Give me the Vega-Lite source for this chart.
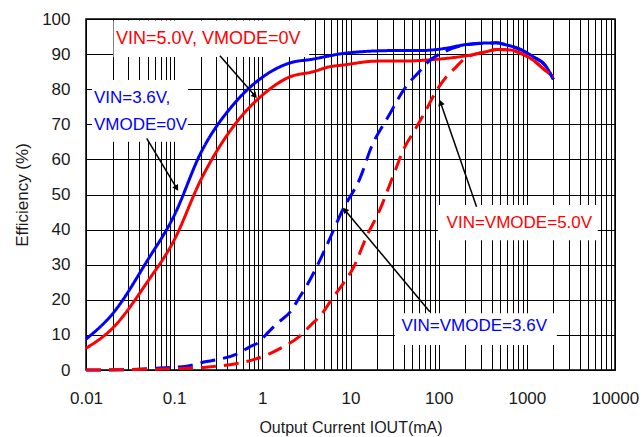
{
  "$schema": "https://vega.github.io/schema/vega-lite/v6.json",
  "width": 529,
  "height": 351,
  "autosize": "none",
  "padding": {"left": 86, "top": 19, "right": 29, "bottom": 67},
  "background": "white",
  "config": {
    "font": "Liberation Sans",
    "view": {"stroke": "black", "strokeWidth": 1.5},
    "axis": {
      "gridColor": "black",
      "gridWidth": 1,
      "gridOpacity": 1,
      "ticks": false,
      "domain": false,
      "labelFont": "Liberation Sans",
      "labelFontSize": 17,
      "labelColor": "#1a1a1a",
      "titleFont": "Liberation Sans",
      "titleFontWeight": "normal",
      "titleColor": "#1a1a1a"
    }
  },
  "datasets": {
    "curves": [
      {"vin": "3.6V", "mode": "0V", "current": 0.01, "eff": 8.8},
      {"vin": "3.6V", "mode": "0V", "current": 0.02, "eff": 16},
      {"vin": "3.6V", "mode": "0V", "current": 0.05, "eff": 31.3},
      {"vin": "3.6V", "mode": "0V", "current": 0.1, "eff": 44},
      {"vin": "3.6V", "mode": "0V", "current": 0.2, "eff": 61.8},
      {"vin": "3.6V", "mode": "0V", "current": 0.5, "eff": 76.4},
      {"vin": "3.6V", "mode": "0V", "current": 1, "eff": 83.4},
      {"vin": "3.6V", "mode": "0V", "current": 2, "eff": 87.4},
      {"vin": "3.6V", "mode": "0V", "current": 3.8, "eff": 88.6},
      {"vin": "3.6V", "mode": "0V", "current": 5.8, "eff": 89.5},
      {"vin": "3.6V", "mode": "0V", "current": 8.3, "eff": 90.2},
      {"vin": "3.6V", "mode": "0V", "current": 30, "eff": 91},
      {"vin": "3.6V", "mode": "0V", "current": 61, "eff": 91},
      {"vin": "3.6V", "mode": "0V", "current": 123, "eff": 91.7},
      {"vin": "3.6V", "mode": "0V", "current": 190, "eff": 92.6},
      {"vin": "3.6V", "mode": "0V", "current": 293, "eff": 93.1},
      {"vin": "3.6V", "mode": "0V", "current": 453, "eff": 93.2},
      {"vin": "3.6V", "mode": "0V", "current": 590, "eff": 92.6},
      {"vin": "3.6V", "mode": "0V", "current": 832, "eff": 91.4},
      {"vin": "3.6V", "mode": "0V", "current": 1175, "eff": 89.3},
      {"vin": "3.6V", "mode": "0V", "current": 1650, "eff": 86.5},
      {"vin": "3.6V", "mode": "0V", "current": 2000, "eff": 82.8},

      {"vin": "5.0V", "mode": "0V", "current": 0.01, "eff": 6.2},
      {"vin": "5.0V", "mode": "0V", "current": 0.02, "eff": 11.9},
      {"vin": "5.0V", "mode": "0V", "current": 0.05, "eff": 25.2},
      {"vin": "5.0V", "mode": "0V", "current": 0.1, "eff": 37},
      {"vin": "5.0V", "mode": "0V", "current": 0.2, "eff": 54.1},
      {"vin": "5.0V", "mode": "0V", "current": 0.5, "eff": 70.3},
      {"vin": "5.0V", "mode": "0V", "current": 1, "eff": 78.3},
      {"vin": "5.0V", "mode": "0V", "current": 2, "eff": 83.4},
      {"vin": "5.0V", "mode": "0V", "current": 3.8, "eff": 85},
      {"vin": "5.0V", "mode": "0V", "current": 5.8, "eff": 86.4},
      {"vin": "5.0V", "mode": "0V", "current": 8.3, "eff": 86.9},
      {"vin": "5.0V", "mode": "0V", "current": 20, "eff": 88},
      {"vin": "5.0V", "mode": "0V", "current": 40, "eff": 88},
      {"vin": "5.0V", "mode": "0V", "current": 72, "eff": 88.3},
      {"vin": "5.0V", "mode": "0V", "current": 146, "eff": 89},
      {"vin": "5.0V", "mode": "0V", "current": 226, "eff": 89.7},
      {"vin": "5.0V", "mode": "0V", "current": 349, "eff": 90.7},
      {"vin": "5.0V", "mode": "0V", "current": 453, "eff": 91.3},
      {"vin": "5.0V", "mode": "0V", "current": 641, "eff": 91.2},
      {"vin": "5.0V", "mode": "0V", "current": 908, "eff": 89.9},
      {"vin": "5.0V", "mode": "0V", "current": 1175, "eff": 88.3},
      {"vin": "5.0V", "mode": "0V", "current": 1530, "eff": 85.9},
      {"vin": "5.0V", "mode": "0V", "current": 2000, "eff": 83.5},

      {"vin": "3.6V", "mode": "VIN", "current": 0.01, "eff": 0},
      {"vin": "3.6V", "mode": "VIN", "current": 0.03, "eff": 0.1},
      {"vin": "3.6V", "mode": "VIN", "current": 0.063, "eff": 0.5},
      {"vin": "3.6V", "mode": "VIN", "current": 0.139, "eff": 1.1},
      {"vin": "3.6V", "mode": "VIN", "current": 0.233, "eff": 2.4},
      {"vin": "3.6V", "mode": "VIN", "current": 0.316, "eff": 3},
      {"vin": "3.6V", "mode": "VIN", "current": 0.53, "eff": 4.7},
      {"vin": "3.6V", "mode": "VIN", "current": 0.72, "eff": 6.6},
      {"vin": "3.6V", "mode": "VIN", "current": 0.9, "eff": 7.8},
      {"vin": "3.6V", "mode": "VIN", "current": 1.12, "eff": 10.3},
      {"vin": "3.6V", "mode": "VIN", "current": 1.45, "eff": 13.1},
      {"vin": "3.6V", "mode": "VIN", "current": 2.15, "eff": 17.1},
      {"vin": "3.6V", "mode": "VIN", "current": 2.55, "eff": 20.1},
      {"vin": "3.6V", "mode": "VIN", "current": 3.3, "eff": 24.7},
      {"vin": "3.6V", "mode": "VIN", "current": 4.5, "eff": 31.3},
      {"vin": "3.6V", "mode": "VIN", "current": 5.1, "eff": 34.2},
      {"vin": "3.6V", "mode": "VIN", "current": 8.3, "eff": 46},
      {"vin": "3.6V", "mode": "VIN", "current": 12.8, "eff": 54.6},
      {"vin": "3.6V", "mode": "VIN", "current": 17.3, "eff": 63.6},
      {"vin": "3.6V", "mode": "VIN", "current": 26.8, "eff": 72.2},
      {"vin": "3.6V", "mode": "VIN", "current": 41.4, "eff": 80.3},
      {"vin": "3.6V", "mode": "VIN", "current": 58.7, "eff": 84.7},
      {"vin": "3.6V", "mode": "VIN", "current": 76, "eff": 87.8},
      {"vin": "3.6V", "mode": "VIN", "current": 117, "eff": 90.7},
      {"vin": "3.6V", "mode": "VIN", "current": 190, "eff": 92.5},
      {"vin": "3.6V", "mode": "VIN", "current": 293, "eff": 93},
      {"vin": "3.6V", "mode": "VIN", "current": 453, "eff": 93.2},
      {"vin": "3.6V", "mode": "VIN", "current": 590, "eff": 92.6},
      {"vin": "3.6V", "mode": "VIN", "current": 832, "eff": 91.4},
      {"vin": "3.6V", "mode": "VIN", "current": 1175, "eff": 89.3},
      {"vin": "3.6V", "mode": "VIN", "current": 1650, "eff": 86.5},
      {"vin": "3.6V", "mode": "VIN", "current": 2000, "eff": 82.8},

      {"vin": "5.0V", "mode": "VIN", "current": 0.01, "eff": 0},
      {"vin": "5.0V", "mode": "VIN", "current": 0.05, "eff": 0.2},
      {"vin": "5.0V", "mode": "VIN", "current": 0.1, "eff": 0.4},
      {"vin": "5.0V", "mode": "VIN", "current": 0.23, "eff": 0.8},
      {"vin": "5.0V", "mode": "VIN", "current": 0.5, "eff": 1.8},
      {"vin": "5.0V", "mode": "VIN", "current": 0.76, "eff": 2.8},
      {"vin": "5.0V", "mode": "VIN", "current": 1.22, "eff": 4.7},
      {"vin": "5.0V", "mode": "VIN", "current": 1.7, "eff": 6.5},
      {"vin": "5.0V", "mode": "VIN", "current": 2.55, "eff": 9.3},
      {"vin": "5.0V", "mode": "VIN", "current": 3.46, "eff": 12.5},
      {"vin": "5.0V", "mode": "VIN", "current": 5.1, "eff": 17.1},
      {"vin": "5.0V", "mode": "VIN", "current": 6.1, "eff": 20.1},
      {"vin": "5.0V", "mode": "VIN", "current": 8.3, "eff": 24.7},
      {"vin": "5.0V", "mode": "VIN", "current": 10.7, "eff": 29},
      {"vin": "5.0V", "mode": "VIN", "current": 15.2, "eff": 38},
      {"vin": "5.0V", "mode": "VIN", "current": 21.5, "eff": 45.6},
      {"vin": "5.0V", "mode": "VIN", "current": 29.2, "eff": 54.1},
      {"vin": "5.0V", "mode": "VIN", "current": 41.4, "eff": 63.6},
      {"vin": "5.0V", "mode": "VIN", "current": 53.7, "eff": 68.4},
      {"vin": "5.0V", "mode": "VIN", "current": 65.6, "eff": 72.2},
      {"vin": "5.0V", "mode": "VIN", "current": 98.6, "eff": 80.3},
      {"vin": "5.0V", "mode": "VIN", "current": 123, "eff": 83.6},
      {"vin": "5.0V", "mode": "VIN", "current": 153, "eff": 86},
      {"vin": "5.0V", "mode": "VIN", "current": 200, "eff": 88.8},
      {"vin": "5.0V", "mode": "VIN", "current": 349, "eff": 90.7},
      {"vin": "5.0V", "mode": "VIN", "current": 453, "eff": 91.3},
      {"vin": "5.0V", "mode": "VIN", "current": 641, "eff": 91.2},
      {"vin": "5.0V", "mode": "VIN", "current": 908, "eff": 89.9},
      {"vin": "5.0V", "mode": "VIN", "current": 1175, "eff": 88.3},
      {"vin": "5.0V", "mode": "VIN", "current": 1530, "eff": 85.9},
      {"vin": "5.0V", "mode": "VIN", "current": 2000, "eff": 83.5}
    ],
    "boxes": [
      {"current": 0.0205, "current2": 3.4, "eff": 89.2, "eff2": 99.6},
      {"current": 0.0117, "current2": 0.143, "eff": 65, "eff2": 82.6},
      {"current": 98, "current2": 6380, "eff": 37, "eff2": 47},
      {"current": 31.8, "current2": 2190, "eff": 7.1, "eff2": 16.2}
    ],
    "arrows": [
      {"id": 1, "current": 0.33, "eff": 89.5, "current2": 0.824, "eff2": 78.1},
      {"id": 2, "current": 0.0488, "eff": 66, "current2": 0.1067, "eff2": 51.8},
      {"id": 3, "current": 269, "eff": 46.5, "current2": 105, "eff2": 76.2},
      {"id": 4, "current": 79.4, "eff": 16.6, "current2": 8.63, "eff2": 45.6}
    ],
    "labels": [
      {"vin": "5.0V", "text": "VIN=5.0V, VMODE=0V", "current": 0.0219, "eff": 94.3, "big": "yes"},
      {"vin": "3.6V", "text": "VIN=3.6V,", "current": 0.0123, "eff": 77.5, "big": "no"},
      {"vin": "3.6V", "text": "VMODE=0V", "current": 0.0123, "eff": 69.8, "big": "no"},
      {"vin": "5.0V", "text": "VIN=VMODE=5.0V", "current": 123, "eff": 42, "big": "no"},
      {"vin": "3.6V", "text": "VIN=VMODE=3.6V", "current": 37.9, "eff": 12.5, "big": "no"}
    ]
  },
  "encoding": {
    "x": {
      "field": "current", "type": "quantitative",
      "scale": {"type": "log", "domain": [0.01, 10000], "nice": false},
      "axis": {
        "title": "Output Current IOUT(mA)",
        "titleFontSize": 16,
        "titlePadding": 13,
        "labelPadding": 20,
        "format": "~g",
        "labelFlush": false,
        "labelOverlap": false,
        "labelBound": false,
        "values": [0.01,0.02,0.03,0.04,0.05,0.06,0.07,0.08,0.09,0.1,0.2,0.3,0.4,0.5,0.6,0.7,0.8,0.9,1,2,3,4,5,6,7,8,9,10,20,30,40,50,60,70,80,90,100,200,300,400,500,600,700,800,900,1000,2000,3000,4000,5000,6000,7000,8000,9000,10000],
        "labelExpr": "indexof(['0.01','0.1','1','10','100','1000','10000'], datum.label) >= 0 ? datum.label : ''"
      }
    },
    "y": {
      "field": "eff", "type": "quantitative",
      "scale": {"domain": [0, 100], "nice": false, "zero": false},
      "axis": {
        "title": "Efficiency (%)",
        "titleFontSize": 17,
        "titlePadding": 10,
        "labelPadding": 16,
        "values": [0, 10, 20, 30, 40, 50, 60, 70, 80, 90, 100],
        "format": "d",
        "labelExpr": "datum.label",
        "labelFlush": false,
        "labelOverlap": false,
        "labelBound": false
      }
    }
  },
  "layer": [
    {
      "data": {"name": "boxes"},
      "mark": {"type": "rect", "fill": "white", "stroke": null},
      "encoding": {
        "x2": {"field": "current2"},
        "y2": {"field": "eff2"}
      }
    },
    {
      "data": {"name": "curves"},
      "mark": {"type": "line", "strokeWidth": 3, "interpolate": "monotone"},
      "encoding": {
        "color": {
          "field": "vin", "type": "nominal",
          "scale": {"domain": ["3.6V", "5.0V"], "range": ["#0000FF", "#FF0000"]},
          "legend": null
        },
        "strokeDash": {
          "field": "mode", "type": "nominal",
          "scale": {"domain": ["0V", "VIN"], "range": [[1, 0], [15, 8]]},
          "legend": null
        }
      }
    },
    {
      "data": {"name": "arrows"},
      "mark": {"type": "rule", "color": "black", "strokeWidth": 1.5},
      "encoding": {
        "x2": {"field": "current2"},
        "y2": {"field": "eff2"}
      }
    },
    {
      "data": {"name": "arrows"},
      "transform": [{"filter": "datum.id == 1"}],
      "mark": {"type": "point", "shape": "triangle-up", "filled": true, "color": "black", "size": 45, "opacity": 1, "angle": 139, "xOffset": 0},
      "encoding": {"x": {"field": "current2", "type": "quantitative"}, "y": {"field": "eff2", "type": "quantitative"}}
    },
    {
      "data": {"name": "arrows"},
      "transform": [{"filter": "datum.id == 2"}],
      "mark": {"type": "point", "shape": "triangle-up", "filled": true, "color": "black", "size": 45, "opacity": 1, "angle": 149},
      "encoding": {"x": {"field": "current2", "type": "quantitative"}, "y": {"field": "eff2", "type": "quantitative"}}
    },
    {
      "data": {"name": "arrows"},
      "transform": [{"filter": "datum.id == 3"}],
      "mark": {"type": "point", "shape": "triangle-up", "filled": true, "color": "black", "size": 45, "opacity": 1, "angle": 341},
      "encoding": {"x": {"field": "current2", "type": "quantitative"}, "y": {"field": "eff2", "type": "quantitative"}}
    },
    {
      "data": {"name": "arrows"},
      "transform": [{"filter": "datum.id == 4"}],
      "mark": {"type": "point", "shape": "triangle-up", "filled": true, "color": "black", "size": 45, "opacity": 1, "angle": 320},
      "encoding": {"x": {"field": "current2", "type": "quantitative"}, "y": {"field": "eff2", "type": "quantitative"}}
    },
    {
      "data": {"name": "labels"},
      "transform": [{"filter": "datum.big == 'no'"}],
      "mark": {"type": "text", "align": "left", "baseline": "middle", "fontSize": 17, "font": "Liberation Sans"},
      "encoding": {
        "text": {"field": "text"},
        "color": {"field": "vin", "type": "nominal", "legend": null}
      }
    },
    {
      "data": {"name": "labels"},
      "transform": [{"filter": "datum.big == 'yes'"}],
      "mark": {"type": "text", "align": "left", "baseline": "middle", "fontSize": 18, "font": "Liberation Sans"},
      "encoding": {
        "text": {"field": "text"},
        "color": {"field": "vin", "type": "nominal", "legend": null}
      }
    }
  ]
}
